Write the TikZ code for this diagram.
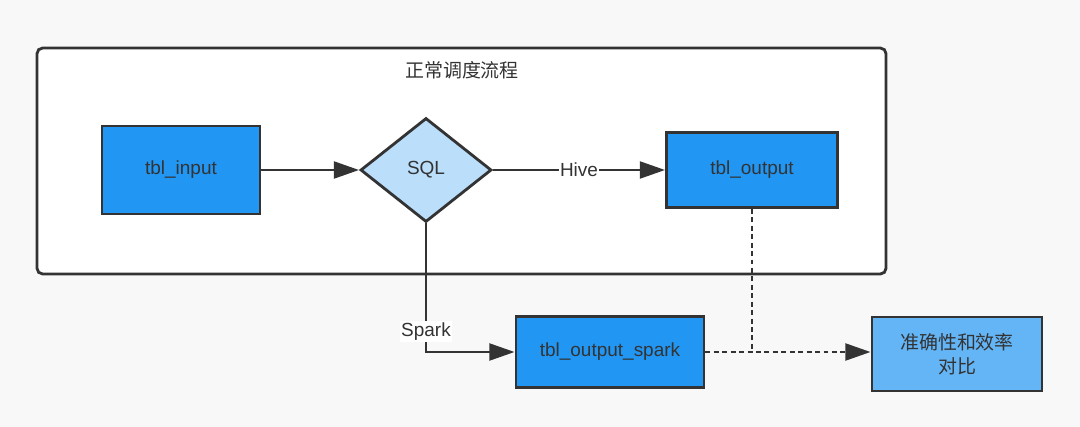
\documentclass[tikz,border=0pt]{standalone}
\usepackage{fontspec}
\setmainfont{Liberation Sans}
\newfontfamily\cjk{Noto Sans CJK SC}
\usepackage{xcolor}
\usetikzlibrary{arrows.meta,positioning,shapes.geometric}
\definecolor{bgpaper}{HTML}{F8F8F8}
\definecolor{inkdark}{HTML}{333333}
\definecolor{tblblue}{HTML}{2196F3}
\definecolor{sqlblue}{HTML}{BBDEFB}
\definecolor{cmpblue}{HTML}{64B5F6}

\begin{document}
\begin{tikzpicture}[
  x=0.025cm, y=-0.025cm,
  tbl/.style={rectangle, draw=inkdark, line width=2pt, fill=tblblue, text=inkdark, font=\fontsize{13.5}{16}\selectfont, align=center},
  decide/.style={diamond, draw=inkdark, line width=2pt, fill=sqlblue, text=inkdark, inner sep=0pt, minimum width=3.275cm, minimum height=2.6cm, font=\fontsize{13.5}{16}\selectfont},
  flow/.style={-{Triangle[length=18pt, width=12pt]}, draw=inkdark, line width=2pt},
  cmpflow/.style={-{Triangle[length=18pt, width=12pt]}, draw=inkdark, line width=2pt, dash pattern=on 3.5pt off 2.5pt},
  lbl/.style={fill=white, text=inkdark, inner sep=1pt, font=\fontsize{13.5}{16}\selectfont},
]
  \useasboundingbox[fill=bgpaper] (0,0) rectangle (1080,427);

  % normal schedule frame
  \draw[draw=inkdark, line width=2pt, fill=white, rounded corners=4pt] (37,48) rectangle (886,274);
  \node[text=inkdark, font=\cjk\fontsize{13.5}{16}\selectfont] (title) at (462,70) {正常调度流程};

  \node[tbl, minimum width=3.95cm, minimum height=2.2cm] (input) at (181,170) {tbl\_input};
  \node[decide] (sql) at (426,170) {SQL};
  \node[tbl, minimum width=4.275cm, minimum height=1.875cm] (output) at (752,170) {tbl\_output};
  \node[tbl, minimum width=4.7cm, minimum height=1.775cm] (spark) at (610,352) {tbl\_output\_spark};
  \node[tbl, fill=cmpblue, minimum width=4.25cm, minimum height=1.85cm, font=\cjk\fontsize{13.5}{17}\selectfont] (cmp) at (957,354) {准确性和效率\\对比};

  \draw[flow] (input) -- (sql);
  \draw[flow] (sql) -- (output) node[lbl, pos=0.5] {Hive};
  \draw[flow] (sql.south) |- (spark) node[lbl, pos=0.42] {Spark};

  \draw[cmpflow] (spark.east) -- (cmp.west |- spark.east);
  \draw[draw=inkdark, line width=2pt, dash pattern=on 3.5pt off 2.5pt] (output.south) -- (output.south |- spark.east);
\end{tikzpicture}
\end{document}
